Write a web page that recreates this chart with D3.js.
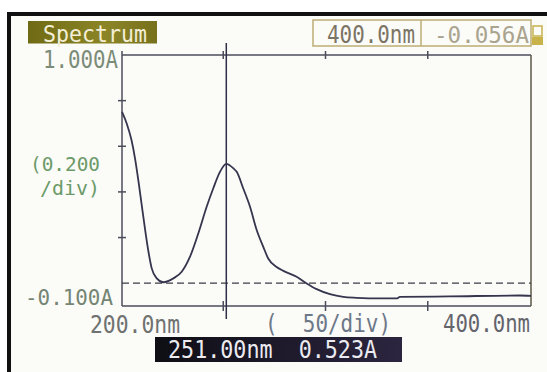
<!DOCTYPE html>
<html>
<head>
<meta charset="utf-8">
<script src="https://cdn.jsdelivr.net/npm/d3@7"></script>
<style>
  html, body { margin: 0; padding: 0; background: #ffffff; }
  #chart svg { display: block; }
</style>
</head>
<body>
<div id="chart"></div>
<script>
// spectrum (nm, absorbance)
const wavelength = [200, 202.3, 204.7, 206.4, 208, 209.6, 211.2, 212.9, 214.5, 217, 220.2,
  225.1, 229.2, 233.2, 237.3, 241.4, 244.6, 247.9, 251, 254.4, 256.1, 259.3, 262.6, 265.9,
  269.1, 271.5, 275.6, 278.9, 285.4, 290.3, 295.2, 301.7, 308.2, 314.8, 326.2, 334.3, 335.9,
  360, 394.6, 400];
const absorbance = [0.751, 0.700, 0.625, 0.545, 0.450, 0.345, 0.241, 0.140, 0.066, 0.021, 0.004,
  0.021, 0.050, 0.115, 0.218, 0.335, 0.415, 0.488, 0.523, 0.504, 0.488, 0.415, 0.335, 0.232,
  0.159, 0.108, 0.071, 0.054, 0.028, -0.001, -0.026, -0.048, -0.060, -0.064, -0.067, -0.067, -0.060,
  -0.058, -0.054, -0.056];

const xTicks = [250, 300, 350];
const yTicks = [0.2, 0.4, 0.6, 0.8];
const baseline = 0;
const cursorNm = 251;
const cursorAbs = 0.523;
const endNm = 400;
const endAbs = -0.056;

const W = 547, H = 372;
const x = d3.scaleLinear().domain([200, 400]).range([122, 531]);
const y = d3.scaleLinear().domain([-0.1, 1.0]).range([306, 55]);

const svg = d3.select("#chart").append("svg")
  .attr("width", W).attr("height", H);

const defs = svg.append("defs");
const olive = defs.append("linearGradient").attr("id", "olive")
  .attr("x1", 0).attr("y1", 0).attr("x2", 1).attr("y2", 0);
olive.append("stop").attr("offset", "0%").attr("stop-color", "#6f6a14");
olive.append("stop").attr("offset", "60%").attr("stop-color", "#8c8527");
olive.append("stop").attr("offset", "100%").attr("stop-color", "#77701c");
const dark = defs.append("linearGradient").attr("id", "dark")
  .attr("x1", 0).attr("y1", 0).attr("x2", 1).attr("y2", 0);
dark.append("stop").attr("offset", "0%").attr("stop-color", "#0e0e14");
dark.append("stop").attr("offset", "100%").attr("stop-color", "#2c2540");

// screen + photo frame
svg.append("rect").attr("x", 9).attr("y", 14).attr("width", W - 9).attr("height", H - 14)
  .attr("fill", "#fbfbf8");
svg.append("rect").attr("x", 8).attr("y", 12).attr("width", W - 8).attr("height", 4).attr("fill", "#111");
svg.append("rect").attr("x", 7).attr("y", 12).attr("width", 4).attr("height", H - 12).attr("fill", "#111");

const mono = "DejaVu Sans Mono, Liberation Mono, monospace";
function label(tx, ty, str, size, len, color) {
  return svg.append("text")
    .attr("x", tx).attr("y", ty)
    .attr("font-family", mono)
    .attr("font-size", size)
    .attr("textLength", len)
    .attr("lengthAdjust", "spacingAndGlyphs")
    .attr("fill", color)
    .style("white-space", "pre")
    .text(str);
}

// title tag
svg.append("rect").attr("x", 28).attr("y", 21).attr("width", 129).attr("height", 22.5)
  .attr("fill", "url(#olive)");
label(43, 41.5, "Spectrum", 23, 104, "#f3efd6");

// top readout
svg.append("rect").attr("x", 313).attr("y", 20).attr("width", 218).attr("height", 26)
  .attr("fill", "none").attr("stroke", "#bcae74").attr("stroke-width", 1.5);
svg.append("line").attr("x1", 421).attr("x2", 421).attr("y1", 20).attr("y2", 46)
  .attr("stroke", "#bcae74").attr("stroke-width", 1.5);
label(327, 43, d3.format(".1f")(endNm) + "nm", 24, 88, "#7c7464");
label(434, 43, d3.format(".3f")(endAbs).replace("−", "-") + "A", 23, 95, "#aaa38e");
svg.append("rect").attr("x", 533).attr("y", 26).attr("width", 9).attr("height", 10)
  .attr("fill", "none").attr("stroke", "#c8b24a").attr("stroke-width", 1.5);
svg.append("rect").attr("x", 532).attr("y", 37).attr("width", 11).attr("height", 8)
  .attr("fill", "#c8b24a");

// axis labels
label(43, 68, "1.000A", 24, 75, "#7b8c78");
label(30, 171, "(0.200", 20, 70, "#6c9a68");
label(40, 195, "/div)", 20, 60, "#6c9a68");
label(25, 305, "-0.100A", 22, 88, "#758574");
label(90, 333, "200.0nm", 25, 90, "#6f7270");
label(265, 332, "(  50/div)", 24, 126, "#6d7888");
label(443, 332, "400.0nm", 24, 87, "#64646c");

// frame of the plot
const axisColor = "#4c4c5c";
const frame = svg.append("g").attr("stroke", axisColor).attr("stroke-width", 1.5).attr("fill", "none");
frame.append("line").attr("x1", x(200)).attr("x2", x(400)).attr("y1", y(1)).attr("y2", y(1));
frame.append("line").attr("x1", x(200)).attr("x2", x(400)).attr("y1", y(-0.1)).attr("y2", y(-0.1));
frame.append("line").attr("x1", x(200)).attr("x2", x(200)).attr("y1", y(1) - 4).attr("y2", y(-0.1));
frame.append("line").attr("x1", x(400)).attr("x2", x(400)).attr("y1", y(1)).attr("y2", y(-0.1))
  .attr("stroke", "#5a5848");

// ticks crossing the frame
frame.selectAll(".xt-top").data(xTicks).enter().append("line")
  .attr("x1", d => x(d) - 1).attr("x2", d => x(d) - 1)
  .attr("y1", y(1) - 4).attr("y2", y(1) + 4);
frame.selectAll(".xt-bot").data(xTicks).enter().append("line")
  .attr("x1", d => x(d) - 1).attr("x2", d => x(d) - 1)
  .attr("y1", y(-0.1) - 5).attr("y2", y(-0.1) + 5);
frame.selectAll(".yt").data(yTicks).enter().append("line")
  .attr("x1", x(200) - 4).attr("x2", x(200) + 4)
  .attr("y1", d => y(d)).attr("y2", d => y(d));

// zero line
svg.append("line")
  .attr("x1", x(200)).attr("x2", x(400))
  .attr("y1", y(baseline)).attr("y2", y(baseline))
  .attr("stroke", "#3c3c48").attr("stroke-width", 1.3)
  .attr("stroke-dasharray", "7,4");

// cursor
svg.append("line")
  .attr("x1", x(cursorNm)).attr("x2", x(cursorNm))
  .attr("y1", 43).attr("y2", 319)
  .attr("stroke", "#2e2e46").attr("stroke-width", 1.5);

// spectrum trace
const pts = wavelength.map((w, i) => [w, absorbance[i]]);
const line = d3.line()
  .x(d => x(d[0]))
  .y(d => y(d[1]))
  .curve(d3.curveMonotoneX);
svg.append("path")
  .datum(pts)
  .attr("d", line)
  .attr("fill", "none")
  .attr("stroke", "#35354e")
  .attr("stroke-width", 1.8);

// cursor readout
svg.append("rect").attr("x", 155).attr("y", 337).attr("width", 247).attr("height", 25)
  .attr("fill", "url(#dark)");
label(168, 358, d3.format(".2f")(cursorNm) + "nm  " + d3.format(".3f")(cursorAbs) + "A", 24, 209, "#ecebf0");
</script>
</body>
</html>
